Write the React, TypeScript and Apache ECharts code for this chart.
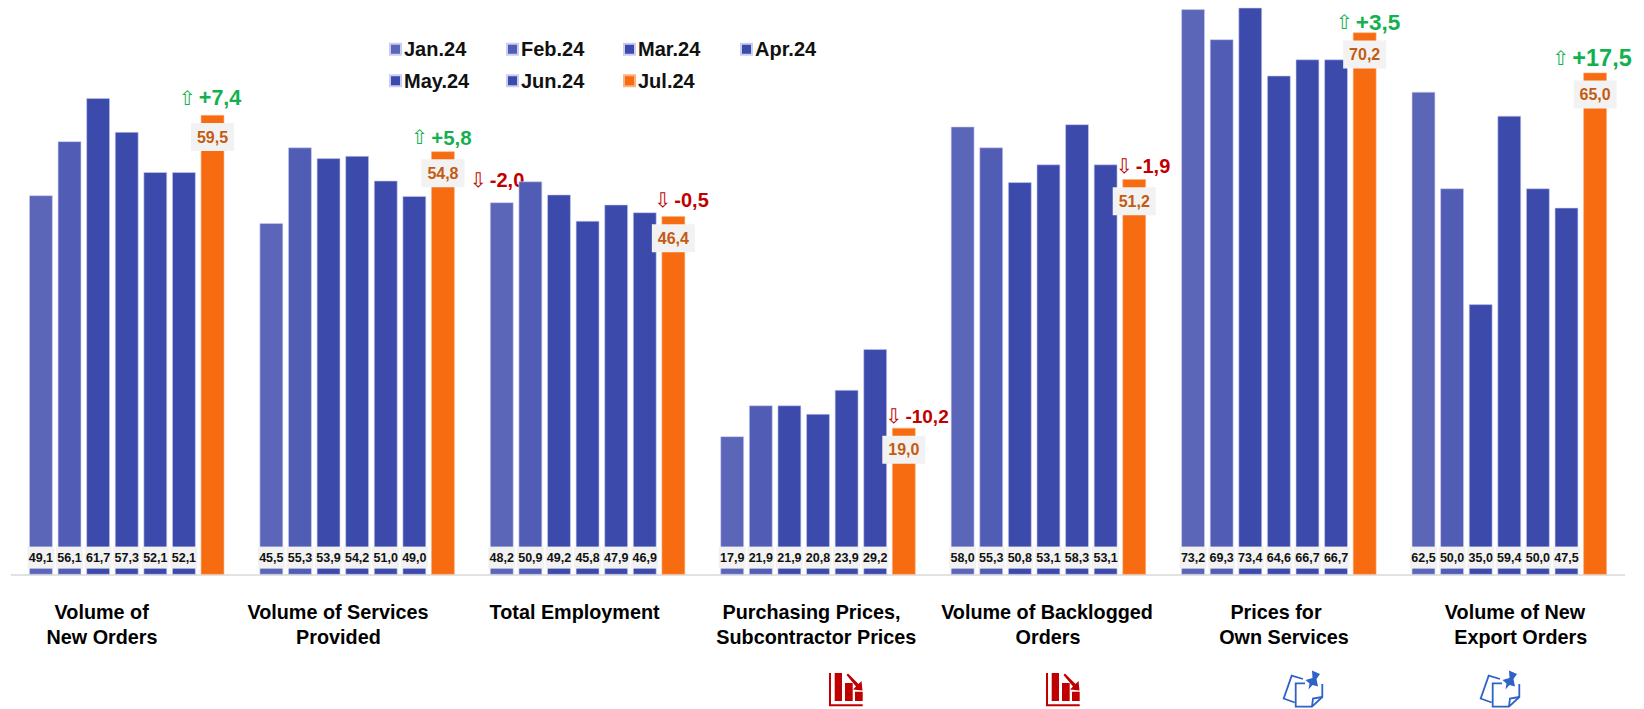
import React, { useEffect, useRef } from "react";
import * as echarts from "echarts";

const categories = [
  "Volume of\nNew Orders",
  "Volume of Services\nProvided",
  "Total Employment",
  "Purchasing Prices,\nSubcontractor Prices",
  "Volume of Backlogged\nOrders",
  "Prices for\nOwn Services",
  "Volume of New\nExport Orders",
];
const months = ["Jan.24", "Feb.24", "Mar.24", "Apr.24", "May.24", "Jun.24", "Jul.24"];
const jan = [49.1, 45.5, 48.2, 17.9, 58.0, 73.2, 62.5];
const feb = [56.1, 55.3, 50.9, 21.9, 55.3, 69.3, 50.0];
const mar = [61.7, 53.9, 49.2, 21.9, 50.8, 73.4, 35.0];
const apr = [57.3, 54.2, 45.8, 20.8, 53.1, 64.6, 59.4];
const may = [52.1, 51.0, 47.9, 23.9, 58.3, 66.7, 50.0];
const jun = [52.1, 49.0, 46.9, 29.2, 53.1, 66.7, 47.5];
const jul = [59.5, 54.8, 46.4, 19.0, 51.2, 70.2, 65.0];
const monthValues = [jan, feb, mar, apr, may, jun, jul];
const monthColors = ["#5b66b8", "#515cb5", "#3c4aac", "#3c4aac", "#3c4aac", "#3c4aac", "#f76b11"];
const changes = ["+7,4", "+5,8", "-0,5", "-10,2", "-1,9", "+3,5", "+17,5"];
const changeSizes = [21.5, 20.5, 20, 19, 20, 22.5, 23.5];
const extraChange = "-2,0";

const FONT = "'Liberation Sans', Arial, sans-serif";
const fmt = (p: any) => Number(p.value).toFixed(1).replace(".", ",");

const line1X = [101.7, 338, 574.6, 811.5, 1047, 1276, 1515];
const line2X = [102, 338.4, 574.6, 816.3, 1048, 1284, 1520.7];
const lineY = [602, 626.800];
const changePos = [
  [210, 98],
  [441.4, 137],
  [681.5, 200],
  [917, 416],
  [1143, 166],
  [1368, 22],
  [1592, 58],
];
const extraPos = [497, 180];

const barsIcon =
  "M0 0h2v31.300h31.700v2H0z M5.700 0H13v28H5.700z M16 10h7.700v18H16z M26 18.700h7.700V28H26z M17.500 2L19 0.500L29.500 11L32.500 8L33.500 17.500L24 16.500L27 13.500z";
const pinIcon = "M29 0.500L37 4L33.500 9L35 16.500L29.500 15L25.500 19.500L26.500 13.500L22.500 10L29.500 8z";

echarts.graphic.registerShape("barsIcon", echarts.graphic.extendPath(barsIcon as any, {}) as any);
echarts.graphic.registerShape("pinIcon", echarts.graphic.extendPath(pinIcon as any, {}) as any);

function noteIcon(x: number, y: number) {
  const stroke = { stroke: "#2e62c8", lineWidth: 1.8, fill: "none" };
  return {
    type: "group",
    x,
    y,
    children: [
      { type: "polyline", shape: { points: [[20, 9], [8.700, 5.700], [0.700, 28.500], [11.700, 32.500]] }, style: stroke },
      {
        type: "polyline",
        shape: { points: [[22, 13.300], [12.700, 13.300], [12.700, 36.700], [29, 36.700], [39.300, 27], [39.300, 14]] },
        style: stroke,
      },
      { type: "polyline", shape: { points: [[29, 36.700], [30, 28.500], [39.300, 27]] }, style: stroke },
      { type: "pinIcon", style: { fill: "#2e62c8" } },
    ],
  };
}

function changeText(text: string, pos: number[], size: number) {
  const up = text.startsWith("+");
  const color = up ? "#13b04f" : "#c00000";
  return {
    type: "text",
    x: pos[0],
    y: pos[1],
    style: {
      text: `{a|${up ? "\u21e7" : "\u21e9"}} {b|${text}}`,
      align: "center",
      verticalAlign: "middle",
      rich: {
        a: { fontFamily: "'DejaVu Sans'", fontSize: 20, fontWeight: "normal", fill: color, color },
        b: { fontFamily: FONT, fontSize: size, fontWeight: "bold", fill: color, color },
      },
    },
  };
}

function categoryLines() {
  const out: any[] = [];
  categories.forEach((c, i) => {
    c.split("\n").forEach((line, j) => {
      out.push({
        type: "text",
        x: (j === 0 ? line1X : line2X)[i],
        y: lineY[j],
        style: {
          text: line,
          fontFamily: FONT,
          fontWeight: "bold",
          fontSize: 19.800,
          fill: "#000000",
          align: "center",
          verticalAlign: "top",
        },
      });
    });
  });
  return out;
}

export default function App() {
  const ref = useRef<HTMLDivElement>(null);
  useEffect(() => {
    const chart = echarts.init(ref.current!, undefined, { renderer: "svg" });
    const option: any = {
      animation: false,
      backgroundColor: "#ffffff",
      grid: { left: 11.5, width: 1613, top: 0, height: 574.6 },
      legend: {
        left: 389,
        top: 33.5,
        width: 480,
        padding: 0,
        itemWidth: 11,
        itemHeight: 11,
        itemGap: 0,
        icon: "rect",
        data: months,
        textStyle: {
          fontFamily: FONT,
          fontWeight: "bold",
          fontSize: 20,
          color: "#111111",
          width: 102,
          height: 31.500,
          lineHeight: 31.500,
          padding: [0, 0, 0, -2],
        },
      },
      xAxis: {
        type: "category",
        data: categories,
        axisLine: { lineStyle: { color: "#d9d9d9", width: 1.500 } },
        axisTick: { show: false },
        axisLabel: { show: false },
      },
      yAxis: { type: "value", min: 0, max: 74.400, show: false, splitLine: { show: false } },
      series: months.map((name, i) => {
        const last = i === months.length - 1;
        return {
          name,
          type: "bar",
          data: monthValues[i],
          barWidth: 23.500,
          barGap: "21.700%",
          itemStyle: { color: monthColors[i], borderColor: last ? "#fbb27f" : "#c9cdf0", borderWidth: 0.600 },
          label: last
            ? {
                show: true,
                position: "insideTop",
                distance: 8,
                formatter: fmt,
                fontFamily: FONT,
                fontWeight: "bold",
                fontSize: 16,
                color: "#c55a11",
                backgroundColor: "#f2f2f2",
                width: 43,
                height: 28,
                lineHeight: 28,
                align: "center",
              }
            : {
                show: true,
                position: "insideBottom",
                distance: 6,
                formatter: fmt,
                fontFamily: FONT,
                fontWeight: "bold",
                fontSize: 12.500,
                color: "#111111",
                backgroundColor: "#f2f2f2",
                width: 27,
                height: 22,
                lineHeight: 22,
                align: "center",
              },
        };
      }),
      graphic: [
        ...categoryLines(),
        ...changes.map((t, i) => changeText(t, changePos[i], changeSizes[i])),
        changeText(extraChange, extraPos, 20),
        { type: "barsIcon", x: 829, y: 673, style: { fill: "#c00000" } },
        { type: "barsIcon", x: 1046, y: 673, style: { fill: "#c00000" } },
        noteIcon(1283, 670),
        noteIcon(1480, 670),
      ],
    };
    chart.setOption(option);
    return () => chart.dispose();
  }, []);
  return (
    <div
      ref={ref}
      style={{ position: "absolute", left: 0, top: 0, width: 1644, height: 709 }}
    />
  );
}
